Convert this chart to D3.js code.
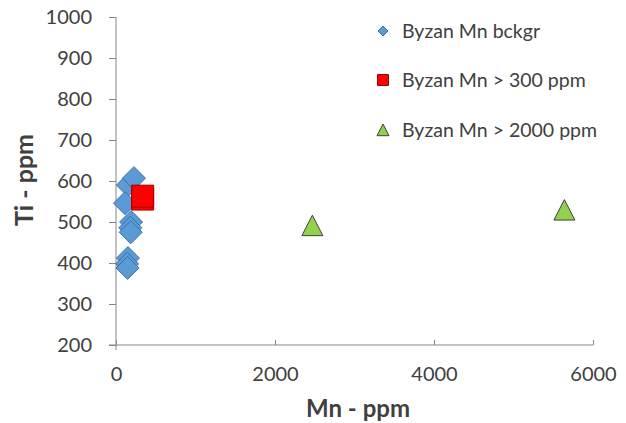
<!DOCTYPE html>
<html>
<head>
<meta charset="utf-8">
<script src="https://cdn.jsdelivr.net/npm/d3@7"></script>
<style>
  html, body { margin: 0; padding: 0; background: #fff; }
  svg { display: block; }
  text { font-family: "Lato", "Open Sans", sans-serif; fill: #404040; }
</style>
</head>
<body>
<svg id="chart" width="626" height="423"></svg>
<script>
// Background Mn samples (Mn ppm, Ti ppm)
const bckgrMn = [150, 226, 113, 190, 180, 185, 150, 140, 145];
const bckgrTi = [590, 607, 546, 500, 486, 475, 412, 398, 388];
// Samples with Mn > 300 ppm
const mid300Mn = [335, 335];
const mid300Ti = [556, 563];
// Samples with Mn > 2000 ppm
const hi2000Mn = [2470, 5640];
const hi2000Ti = [491, 529];

const xTicks = [0, 2000, 4000, 6000];
const yTicks = [200, 300, 400, 500, 600, 700, 800, 900, 1000];
const seriesNames = ["Byzan Mn bckgr", "Byzan Mn > 300 ppm", "Byzan Mn > 2000 ppm"];

const svg = d3.select("#chart");
const plotLeft = 116, plotRight = 593, plotTop = 17, plotBottom = 345;

const x = d3.scaleLinear().domain([0, 6000]).range([plotLeft, plotRight]);
const y = d3.scaleLinear().domain([200, 1000]).range([plotBottom, plotTop]);

const axisColor = "#868686";
const labelFont = "Lato, 'Open Sans', sans-serif";

// Y axis: ticks pointing outward
const yAxis = svg.append("g")
  .attr("transform", `translate(${plotLeft},0)`)
  .call(d3.axisLeft(y).tickValues(yTicks).tickSize(7).tickPadding(17).tickFormat(d3.format("d")));
yAxis.select(".domain").attr("stroke", axisColor).attr("d", `M0,${plotTop}V${plotBottom + 5}`);
yAxis.selectAll(".tick line").attr("stroke", axisColor);
yAxis.selectAll(".tick text").attr("font-size", 20).attr("fill", "#404040")
  .style("font-family", labelFont);

// X axis: ticks pointing inward
const xAxis = svg.append("g")
  .attr("transform", `translate(0,${plotBottom})`)
  .call(d3.axisBottom(x).tickValues(xTicks).tickSize(-5).tickPadding(22).tickFormat(d3.format("d")));
xAxis.select(".domain").attr("stroke", axisColor).attr("d", `M${plotLeft - 7},0H${plotRight}`);
xAxis.selectAll(".tick line").attr("stroke", axisColor);
xAxis.selectAll(".tick text").attr("font-size", 20).attr("fill", "#404040")
  .style("font-family", labelFont);

// Axis titles
svg.append("text")
  .attr("x", 358).attr("y", 417)
  .attr("text-anchor", "middle")
  .attr("font-size", 24).attr("font-weight", "bold")
  .text("Mn - ppm");
svg.append("text")
  .attr("transform", "translate(33,180) rotate(-90)")
  .attr("text-anchor", "middle")
  .attr("font-size", 25).attr("font-weight", "bold")
  .text("Ti - ppm");

// Marker shapes
const diamond = s => `M0,${-s}L${s},0L0,${s}L${-s},0Z`;
const square = s => `M${-s},${-s}H${s}V${s}H${-s}Z`;
const triangle = s => `M0,${-s}L${s},${s * 0.95}L${-s},${s * 0.95}Z`;

const styles = [
  { path: diamond, fill: "#5b9bd5", stroke: "#3f6f9f" },
  { path: square, fill: "#ff0000", stroke: "#a00000" },
  { path: triangle, fill: "#92d050", stroke: "#404040" }
];

function plot(mn, ti, st, size) {
  svg.append("g").selectAll("path")
    .data(d3.zip(mn, ti))
    .join("path")
    .attr("transform", d => `translate(${x(d[0])},${y(d[1])})`)
    .attr("d", st.path(size))
    .attr("fill", st.fill)
    .attr("stroke", st.stroke)
    .attr("stroke-width", 1);
}
plot(bckgrMn, bckgrTi, styles[0], 11.5);
plot(mid300Mn, mid300Ti, styles[1], 11);
plot(hi2000Mn, hi2000Ti, styles[2], 10.5);

// Legend
const legendY = [31, 80, 130];
const legend = svg.append("g");
seriesNames.forEach((name, i) => {
  const sz = [5, 5.5, 6][i];
  legend.append("path")
    .attr("transform", `translate(383,${legendY[i]})`)
    .attr("d", styles[i].path(sz))
    .attr("fill", styles[i].fill)
    .attr("stroke", styles[i].stroke)
    .attr("stroke-width", 1);
  legend.append("text")
    .attr("x", 402).attr("y", legendY[i])
    .attr("dy", "0.35em")
    .attr("font-size", 19.5)
    .text(name);
});
</script>
</body>
</html>
